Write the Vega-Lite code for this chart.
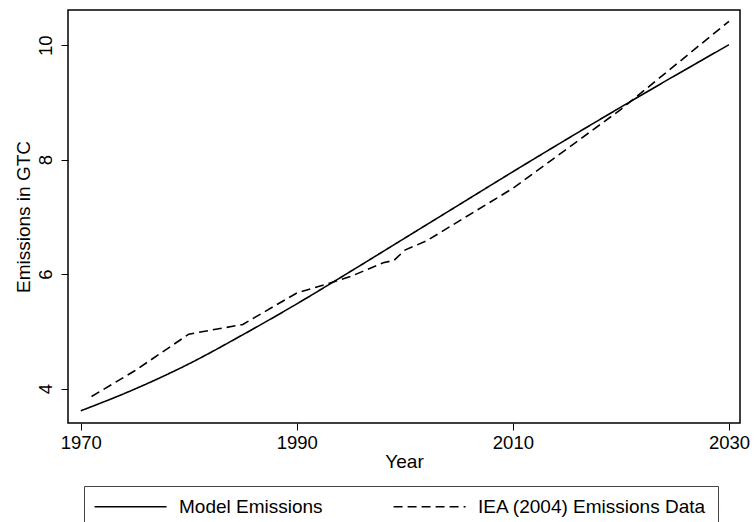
{
  "$schema": "https://vega.github.io/schema/vega-lite/v6.json",
  "autosize": "none",
  "width": 672,
  "height": 413,
  "padding": {"left": 68, "top": 10, "right": 14, "bottom": 99},
  "background": "white",
  "config": {
    "font": "Liberation Sans",
    "view": {"stroke": "black", "strokeWidth": 1.5},
    "axis": {
      "domain": false,
      "grid": false,
      "ticks": true,
      "tickColor": "black",
      "tickWidth": 1,
      "tickSize": 7,
      "labelColor": "black",
      "titleColor": "black",
      "labelFont": "Liberation Sans",
      "titleFont": "Liberation Sans",
      "labelFontSize": 18.5,
      "titleFontSize": 19,
      "titleFontWeight": "normal"
    }
  },
  "datasets": {
    "emissions": [
      {"year": 1970, "gtc": 3.61, "series": "Model Emissions"},
      {"year": 1975, "gtc": 3.99, "series": "Model Emissions"},
      {"year": 1980, "gtc": 4.43, "series": "Model Emissions"},
      {"year": 1985, "gtc": 4.94, "series": "Model Emissions"},
      {"year": 1990, "gtc": 5.48, "series": "Model Emissions"},
      {"year": 1995, "gtc": 6.05, "series": "Model Emissions"},
      {"year": 2000, "gtc": 6.63, "series": "Model Emissions"},
      {"year": 2005, "gtc": 7.21, "series": "Model Emissions"},
      {"year": 2010, "gtc": 7.79, "series": "Model Emissions"},
      {"year": 2015, "gtc": 8.36, "series": "Model Emissions"},
      {"year": 2020, "gtc": 8.92, "series": "Model Emissions"},
      {"year": 2025, "gtc": 9.47, "series": "Model Emissions"},
      {"year": 2030, "gtc": 10.01, "series": "Model Emissions"},
      {"year": 1971, "gtc": 3.86, "series": "IEA (2004) Emissions Data"},
      {"year": 1975, "gtc": 4.31, "series": "IEA (2004) Emissions Data"},
      {"year": 1980, "gtc": 4.95, "series": "IEA (2004) Emissions Data"},
      {"year": 1985, "gtc": 5.12, "series": "IEA (2004) Emissions Data"},
      {"year": 1990, "gtc": 5.67, "series": "IEA (2004) Emissions Data"},
      {"year": 1993, "gtc": 5.84, "series": "IEA (2004) Emissions Data"},
      {"year": 1995, "gtc": 5.96, "series": "IEA (2004) Emissions Data"},
      {"year": 1998, "gtc": 6.2, "series": "IEA (2004) Emissions Data"},
      {"year": 1999, "gtc": 6.24, "series": "IEA (2004) Emissions Data"},
      {"year": 2000, "gtc": 6.42, "series": "IEA (2004) Emissions Data"},
      {"year": 2002, "gtc": 6.58, "series": "IEA (2004) Emissions Data"},
      {"year": 2010, "gtc": 7.5, "series": "IEA (2004) Emissions Data"},
      {"year": 2020, "gtc": 8.88, "series": "IEA (2004) Emissions Data"},
      {"year": 2030, "gtc": 10.42, "series": "IEA (2004) Emissions Data"}
    ]
  },
  "data": {"name": "emissions"},
  "encoding": {
    "x": {
      "field": "year",
      "type": "quantitative",
      "title": "Year",
      "scale": {"domain": [1968.82, 2031.02], "nice": false, "zero": false},
      "axis": {"values": [1970, 1990, 2010, 2030], "format": "d", "labelPadding": 3, "titlePadding": 1}
    },
    "y": {
      "field": "gtc",
      "type": "quantitative",
      "title": "Emissions in GTC",
      "scale": {"domain": [3.397, 10.617], "nice": false, "zero": false},
      "axis": {"values": [4, 6, 8, 10], "labelAngle": 270, "labelPadding": 6, "titlePadding": 3}
    },
    "strokeDash": {
      "field": "series",
      "type": "nominal",
      "scale": {
        "domain": ["Model Emissions", "IEA (2004) Emissions Data"],
        "range": [[1, 0], [9, 5]]
      },
      "legend": {
        "title": null,
        "orient": "none",
        "direction": "horizontal",
        "legendX": 16,
        "legendY": 476,
        "padding": 11,
        "strokeColor": "#444444",
        "fillColor": "white",
        "symbolType": "M-2.2,0H13.8",
        "symbolSize": 81,
        "symbolStrokeWidth": 1.6,
        "symbolStrokeColor": "black",
        "labelFont": "Liberation Sans",
        "labelFontSize": 19,
        "labelColor": "black",
        "labelOffset": 65,
        "labelLimit": 400,
        "columnPadding": 67
      }
    }
  },
  "layer": [
    {
      "transform": [{"filter": "datum.series === 'Model Emissions'"}],
      "mark": {"type": "line", "color": "black", "strokeWidth": 1.6, "clip": true, "interpolate": "monotone"}
    },
    {
      "transform": [{"filter": "datum.series !== 'Model Emissions'"}],
      "mark": {"type": "line", "color": "black", "strokeWidth": 1.6, "clip": true}
    }
  ]
}
